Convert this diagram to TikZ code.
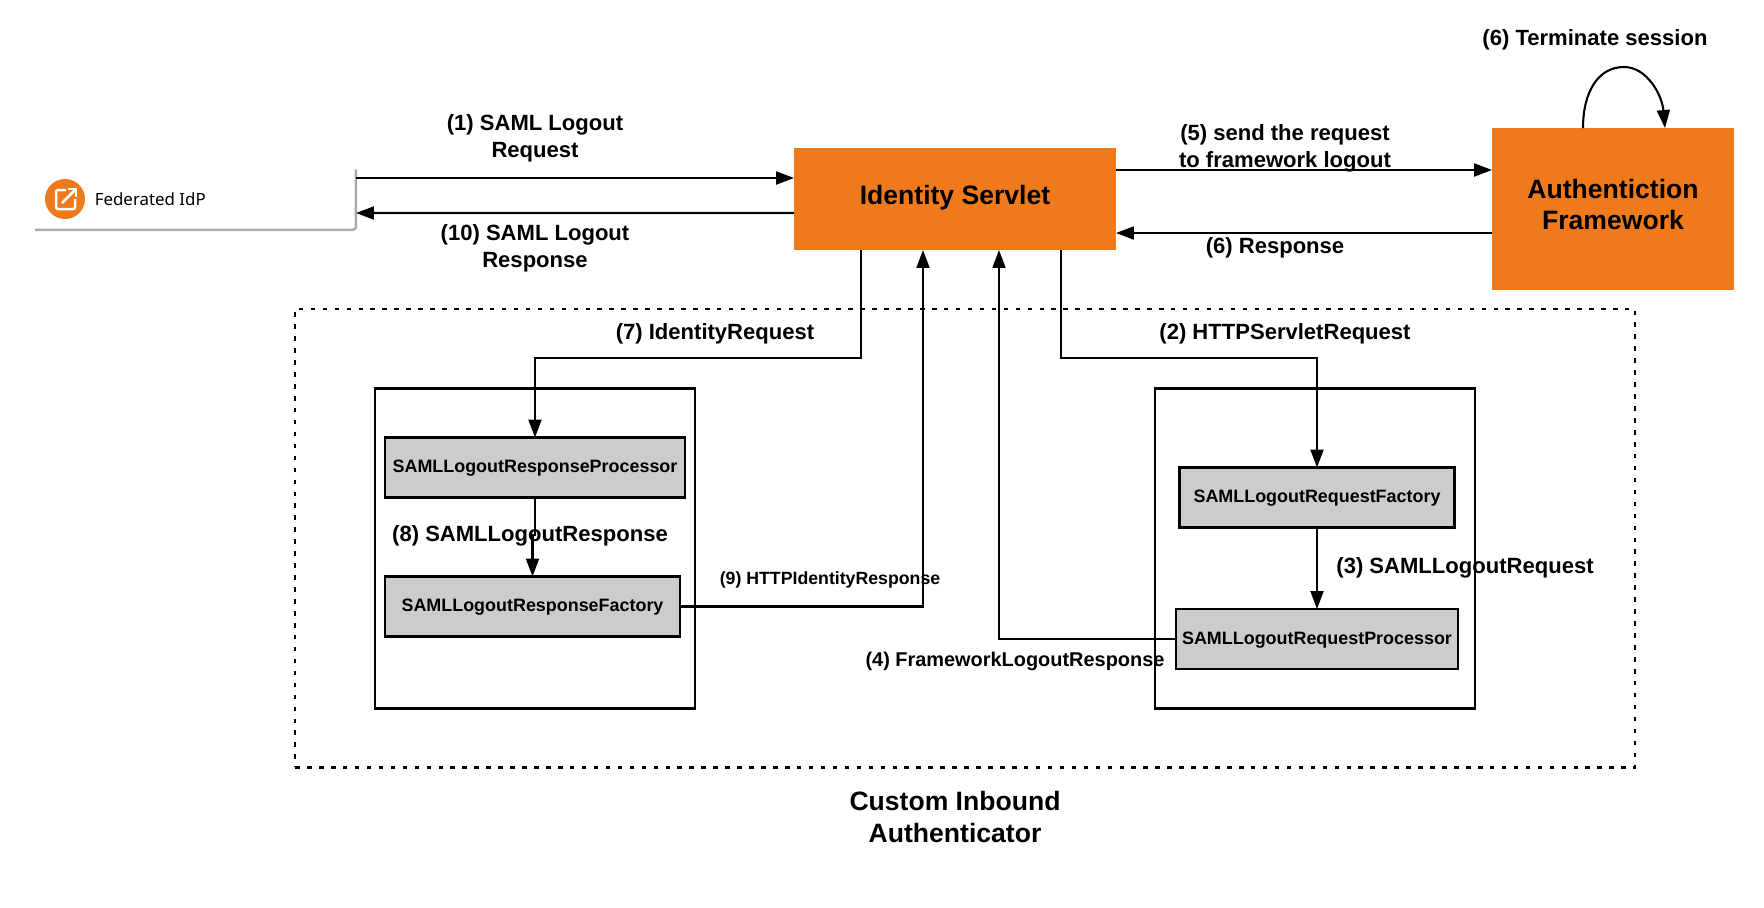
\documentclass[tikz,border=0pt]{standalone}
\usepackage{fontspec}
\setmainfont{Liberation Sans}
\newfontfamily\idpfont{Noto Sans}
\usetikzlibrary{arrows.meta,calc}
\definecolor{boxorange}{HTML}{EF7A1B}
\definecolor{boxgray}{HTML}{CCCCCC}
\definecolor{edgegray}{HTML}{ABABAB}
\tikzset{
  flow/.style={-{Triangle[length=3.6mm,width=2.6mm]},line width=.042cm},
  bigbox/.style={fill=boxorange,align=center,outer sep=0pt,font=\fontsize{15.12}{18.1}\selectfont\bfseries},
  classbox/.style={draw,fill=boxgray,line width=.042cm,outer sep=0pt,text depth=1.1pt,font=\fontsize{10.2}{12}\selectfont\bfseries},
  holder/.style={draw,line width=.042cm,outer sep=0pt},
  steplabel/.style={align=center,inner sep=0pt,font=\fontsize{12.55}{15.3}\selectfont\bfseries},
}
\begin{document}
\begin{tikzpicture}[x=.02cm,y=-.02cm]
\useasboundingbox (0,0) rectangle (1764,907);
% dotted frame and the two holders
\node[draw,line width=.042cm,dash pattern=on 2.6pt off 4.2pt,minimum width=26.8cm,minimum height=9.18cm] (frame) at (965,538) {};
\node[holder,minimum width=6.4cm,minimum height=6.4cm] (lefthold) at (535,548.5) {};
\node[holder,minimum width=6.4cm,minimum height=6.4cm] (righthold) at (1315,548.5) {};
% boxes
\node[bigbox,minimum width=6.44cm,minimum height=2.04cm,text depth=4.3pt] (servlet) at (955,199) {Identity Servlet};
\node[fill=boxorange,outer sep=0pt,minimum width=4.84cm,minimum height=3.24cm] (framework) at (1613,209) {};
\node[steplabel,font=\fontsize{15.12}{18.1}\selectfont\bfseries] (frameworktext) at (framework.center) [yshift=.09cm] {Authentiction\\Framework};
\node[classbox,minimum width=6cm,minimum height=1.2cm] (respproc) at (535,467.5) {SAMLLogoutResponseProcessor};
\node[classbox,minimum width=5.9cm,minimum height=1.2cm] (respfact) at (532.5,606.5) {SAMLLogoutResponseFactory};
\node[classbox,minimum width=5.5cm,minimum height=1.2cm] (reqfact) at (1317,497.5) {SAMLLogoutRequestFactory};
\node[classbox,minimum width=5.58cm,minimum height=1.2cm] (reqproc) at (1317,639) {SAMLLogoutRequestProcessor};
% federated idp widget
\node[minimum width=6.42cm,minimum height=1.21cm,outer sep=0pt] (idp) at (195.5,199.5) {};
\draw[edgegray,line width=.05cm,rounded corners=.06cm] (idp.south west) -- (idp.south east) -- (idp.north east);
\node[circle,fill=boxorange,minimum size=.8cm,inner sep=0pt] (idpicon) at (65,199) {};
\draw[white,line width=.05cm,rounded corners=.04cm] ($(idpicon)+(1,-9)$) -- ($(idpicon)+(-9,-9)$) -- ($(idpicon)+(-9,10)$) -- ($(idpicon)+(10,10)$) -- ($(idpicon)+(10,0)$);
\draw[white,line width=.05cm] ($(idpicon)+(-3,4)$) -- ($(idpicon)+(10,-9)$);
\draw[white,line width=.05cm] ($(idpicon)+(3,-10)$) -- ($(idpicon)+(11,-10)$) -- ($(idpicon)+(11,-2)$);
\node[anchor=west,inner sep=0pt,font=\fontsize{9.6}{12}\selectfont\idpfont] (idptext) at (94.5,199) {Federated IdP};
% connectors
\draw[flow] ($(idp.east)+(0,-21.5)$) -- ($(servlet.west)+(0,-21)$);
\draw[flow] ($(servlet.west)+(0,14)$) -- ($(idp.east)+(0,13.5)$);
\draw[flow] ($(servlet.east)+(0,-29)$) -- ($(framework.west)+(0,-39)$);
\draw[flow] ($(framework.west)+(0,24)$) -- ($(servlet.east)+(0,34)$);
\coordinate (looptop) at (1624,67);
\draw[flow] ($(framework.north)+(-30,0)$) .. controls (1583,92) and (1598,67) .. (looptop) .. controls (1647,67) and (1662,95) .. ($(framework.north)+(52,0)$);
\draw[flow] ($(servlet.south)+(-94,0)$) -- (861,358) -| (respproc.north);
\draw[flow] ($(servlet.south)+(106,0)$) -- (1061,358) -| (reqfact.north);
\draw[flow] (respproc.south) -- (535,535) -- (532.5,535) -- (respfact.north);
\draw[flow] (respfact.east) -| ($(servlet.south)+(-32,0)$);
\draw[flow] (reqfact.south) -- (reqproc.north);
\draw[flow] (reqproc.west) -| ($(servlet.south)+(44,0)$);
% labels
\node[steplabel] (lab1) at (535,138) {(1) SAML Logout\\Request};
\node[steplabel] (lab10) at (535,248) {(10) SAML Logout\\Response};
\node[steplabel] (lab5) at (1285,148) {(5) send the request\\to framework logout};
\node[steplabel] (lab6a) at (1275,248) {(6) Response};
\node[steplabel] (lab6b) at (1595,40) {(6) Terminate session};
\node[steplabel] (lab7) at (715,334) {(7) IdentityRequest};
\node[steplabel] (lab2) at (1285,334) {(2) HTTPServletRequest};
\node[steplabel] (lab8) at (530,536) {(8) SAMLLogoutResponse};
\node[steplabel] (lab3) at (1465,568) {(3) SAMLLogoutRequest};
\node[steplabel,font=\fontsize{10.08}{12}\selectfont\bfseries] (lab9) at (830,580) {(9) HTTPIdentityResponse};
\node[steplabel,font=\fontsize{11.34}{14}\selectfont\bfseries] (lab4) at (1015,661) {(4) FrameworkLogoutResponse};
\node[steplabel,font=\fontsize{15.12}{18.1}\selectfont\bfseries] (labcustom) at (955,817) {Custom Inbound\\Authenticator};
\end{tikzpicture}
\end{document}
